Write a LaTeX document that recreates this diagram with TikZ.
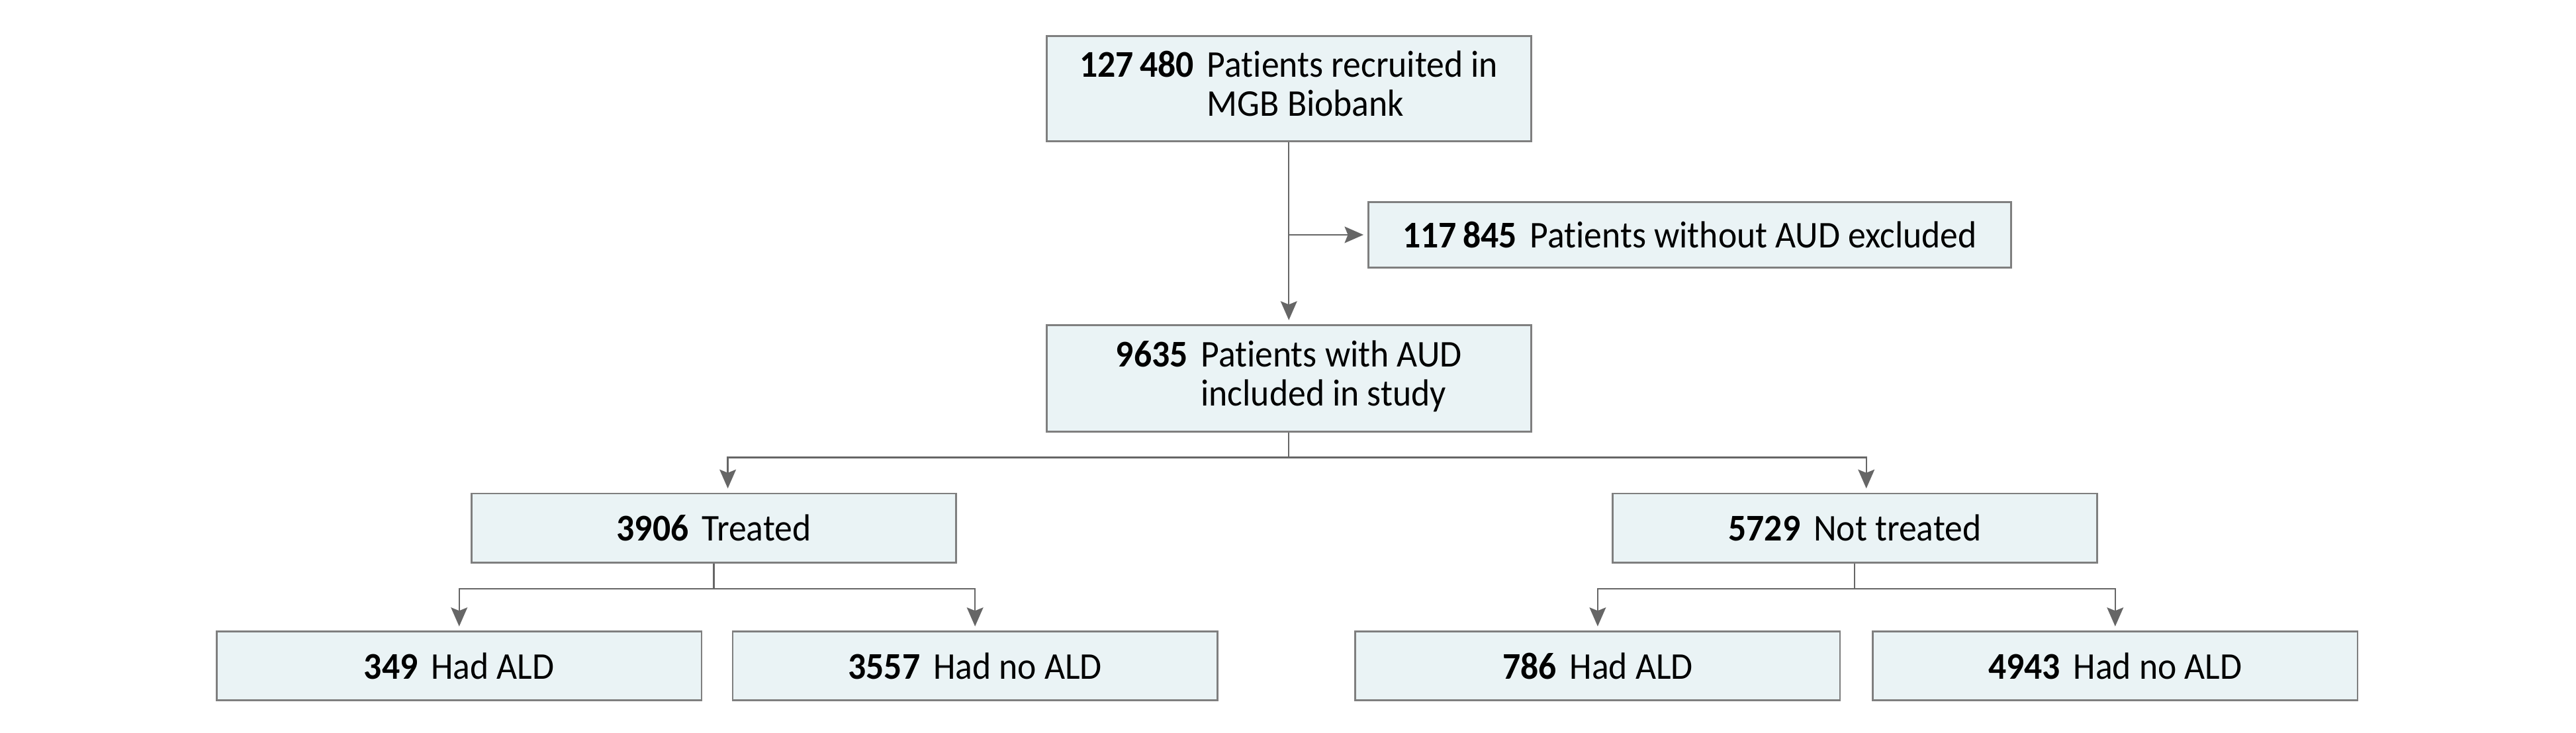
\documentclass[tikz,border=0pt]{standalone}
\usepackage{fontspec}
\setmainfont{Carlito}[FakeStretch=0.94, RawFeature={-liga;-clig;-dlig}]
\usetikzlibrary{arrows.meta}
\definecolor{boxfill}{HTML}{EAF3F5}
\definecolor{boxline}{HTML}{7F7F7F}
\definecolor{conn}{HTML}{666666}
\tikzset{
  fbox/.style={draw=boxline, line width=1.1pt, fill=boxfill, minimum height=42pt, inner sep=0pt, align=center, font=\fontsize{23}{24}\selectfont},
  arr/.style={draw=conn, line width=0.9pt, shorten >=2.5pt, -{Stealth[length=11.5pt,width=10pt,inset=2pt]}},
  ln/.style={draw=conn, line width=0.9pt}
}
\newcommand{\nb}[1]{\textbf{#1}\hspace{8pt}}
\begin{document}
\begin{tikzpicture}[x=1pt,y=-1pt]
\useasboundingbox (0,0) rectangle (1568,446);
\node[fbox, minimum width=295pt, minimum height=64pt] (top) at (784.5,54)
  {\begin{tabular}{@{}l@{\hspace{8pt}}l@{}}\textbf{127\,480} & Patients recruited in\\ & MGB Biobank\end{tabular}};
\node[fbox, minimum width=391pt, minimum height=40pt] (excl) at (1028.5,143) {\nb{117\,845}Patients without AUD excluded};
\node[fbox, minimum width=295pt, minimum height=65pt] (incl) at (784.5,230.5)
  {\begin{tabular}{@{}l@{\hspace{8pt}}l@{}}\textbf{9635} & Patients with AUD\\ & included in study\end{tabular}};
\node[fbox, minimum width=295pt] (trt) at (434.5,321.5) {\nb{3906}Treated};
\node[fbox, minimum width=295pt] (ntr) at (1129,321.5) {\nb{5729}Not treated};
\node[fbox, minimum width=295pt] (b1) at (279.5,405.5) {\nb{349}Had ALD};
\node[fbox, minimum width=295pt] (b2) at (593.5,405.5) {\nb{3557}Had no ALD};
\node[fbox, minimum width=295pt] (b3) at (972.5,405.5) {\nb{786}Had ALD};
\node[fbox, minimum width=295pt] (b4) at (1287.5,405.5) {\nb{4943}Had no ALD};
\draw[arr] (top.south) -- (incl.north);
\draw[arr] (excl.west -| top.south) -- (excl.west);
\draw[ln] (incl.south) -- ([yshift=-15pt]incl.south);
\draw[arr] ([yshift=-15pt]incl.south) -| ([xshift=8.5pt]trt.north);
\draw[arr] ([yshift=-15pt]incl.south) -| ([xshift=7pt]ntr.north);
\draw[ln] (trt.south) -- ([yshift=-15.5pt]trt.south);
\draw[arr] ([yshift=-15.5pt]trt.south) -| (b1.north);
\draw[arr] ([yshift=-15.5pt]trt.south) -| (b2.north);
\draw[ln] (ntr.south) -- ([yshift=-15.5pt]ntr.south);
\draw[arr] ([yshift=-15.5pt]ntr.south) -| (b3.north);
\draw[arr] ([yshift=-15.5pt]ntr.south) -| (b4.north);
\end{tikzpicture}
\end{document}
